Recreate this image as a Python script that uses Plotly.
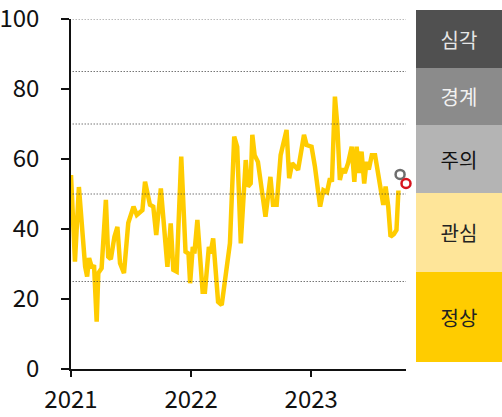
import plotly.graph_objs as go

# weekly index values
dates = [
    "2021-01-01", "2021-01-13", "2021-01-25", "2021-02-13", "2021-02-19", "2021-02-25",
    "2021-03-06", "2021-03-12", "2021-03-20", "2021-03-25", "2021-04-04", "2021-04-17",
    "2021-04-24", "2021-05-02", "2021-05-13", "2021-05-22", "2021-05-30", "2021-06-11",
    "2021-06-24", "2021-07-10", "2021-07-20", "2021-08-06", "2021-08-14", "2021-08-29",
    "2021-09-08", "2021-09-17", "2021-10-01", "2021-10-21", "2021-10-31", "2021-11-08",
    "2021-11-18", "2021-12-02", "2021-12-15", "2021-12-24", "2021-12-29", "2022-01-06",
    "2022-01-11", "2022-01-20", "2022-02-05", "2022-02-12", "2022-02-24", "2022-03-01",
    "2022-03-09", "2022-03-24", "2022-04-04", "2022-04-14", "2022-04-29", "2022-05-12",
    "2022-05-21", "2022-06-01", "2022-06-16", "2022-06-23", "2022-07-01", "2022-07-06",
    "2022-07-13", "2022-07-23", "2022-08-15", "2022-08-30", "2022-09-07", "2022-09-18",
    "2022-09-30", "2022-10-18", "2022-10-26", "2022-11-04", "2022-11-22", "2022-12-10",
    "2022-12-18", "2023-01-02", "2023-01-12", "2023-01-28", "2023-02-07", "2023-02-18",
    "2023-02-27", "2023-03-05", "2023-03-14", "2023-03-21", "2023-03-29", "2023-04-06",
    "2023-04-13", "2023-04-23", "2023-05-04", "2023-05-12", "2023-05-19", "2023-05-26",
    "2023-06-03", "2023-06-11", "2023-06-18", "2023-06-25", "2023-07-04", "2023-07-14",
    "2023-07-24", "2023-08-03", "2023-08-08", "2023-08-15", "2023-08-23", "2023-08-30",
    "2023-09-09", "2023-09-17", "2023-09-23",
]
values = [
    55.4, 30.7, 52.0, 29.2, 26.4, 31.7,
    28.8, 29.7, 13.5, 27.4, 28.8, 48.3,
    32.1, 31.4, 37.8, 40.6, 30.2, 27.4,
    41.7, 46.4, 44.0, 45.4, 53.5, 46.9,
    46.4, 38.3, 51.6, 29.2, 41.6, 28.3,
    27.8, 60.7, 33.5, 33.0, 24.5, 34.9,
    33.0, 42.6, 22.1, 22.1, 34.9, 33.0,
    37.3, 19.2, 18.3, 26.4, 35.9, 66.4,
    63.5, 35.9, 59.7, 52.1, 53.0, 66.9,
    61.1, 59.2, 43.5, 54.9, 46.9, 46.9,
    61.1, 68.3, 54.5, 58.8, 56.9, 66.9,
    64.0, 63.5, 58.0, 46.4, 51.1, 50.5,
    54.5, 53.5, 77.8, 70.0, 54.0, 57.3,
    56.0, 58.8, 63.5, 53.5, 63.5, 56.0,
    62.1, 53.0, 59.2, 57.0, 61.1, 61.1,
    56.0, 50.2, 46.9, 52.1, 46.4, 37.8,
    38.5, 39.7, 51.0,
]

# highlighted latest points
marker_dates = ["2023-09-28", "2023-10-16"]
marker_values = [55.6, 53.0]
marker_colors = ["#6e6e6e", "#d7141e"]

# alert levels (dotted lines) and the side panel
levels = [25, 50, 70, 85, 100]
stage_names = ["정상", "관심", "주의", "경계", "심각"]
stage_low = [2.0, 27.7, 50.3, 69.7, 86.0]
stage_high = [27.7, 50.3, 69.7, 86.0, 102.6]
stage_fill = ["#ffcc00", "#fee599", "#b4b4b4", "#8b8b8b", "#505050"]
stage_text = ["#222222", "#222222", "#111111", "#f2f2f2", "#e6e6e6"]

year_ticks = ["2021-01-01", "2022-01-01", "2023-01-01"]
year_labels = ["2021", "2022", "2023"]

FONT = "Noto Sans CJK KR"

fig = go.Figure()

fig.add_trace(go.Scatter(
    x=dates, y=values, mode="lines",
    line=dict(color="#ffcc00", width=4.5),
    hoverinfo="skip",
))

for d, v, c in zip(marker_dates, marker_values, marker_colors):
    fig.add_trace(go.Scatter(
        x=[d], y=[v], mode="markers", cliponaxis=False,
        marker=dict(symbol="circle", size=9, color="white",
                    line=dict(color=c, width=2.5)),
    ))

fig.add_trace(go.Bar(
    x=[0] * len(stage_names),
    y=[h - l for l, h in zip(stage_low, stage_high)],
    base=stage_low,
    width=1,
    marker=dict(color=stage_fill, line=dict(width=0)),
    text=stage_names,
    textposition="inside",
    insidetextanchor="middle",
    constraintext="none",
    textfont=dict(family=FONT, size=20, color=stage_text),
    xaxis="x2", yaxis="y2",
))

for lv in levels:
    fig.add_shape(type="line", xref="x domain", yref="y",
                  x0=0.005, x1=1, y0=lv, y1=lv,
                  line=dict(color="#333333", width=1, dash="1px,2px"))

W, H = 502, 417
fig.update_layout(
    width=W, height=H,
    margin=dict(l=0, r=0, t=0, b=0),
    paper_bgcolor="white", plot_bgcolor="white",
    showlegend=False,
    bargap=0,
    font=dict(family=FONT, color="#111111"),
    xaxis=dict(
        type="date", domain=[71 / W, 406 / W],
        range=["2021-01-01", "2023-10-16"],
        tickvals=year_ticks, ticktext=year_labels,
        ticks="outside", ticklen=6, tickwidth=1.5, tickcolor="#111111",
        showline=True, linecolor="#111111", linewidth=1.5,
        showgrid=False, zeroline=False, automargin=False,
        ticklabeloverflow="allow", ticklabelstandoff=2,
        tickfont=dict(size=24, color="#111111"),
    ),
    yaxis=dict(
        domain=[(H - 369) / H, (H - 19) / H],
        range=[0, 100],
        tickvals=[0, 20, 40, 60, 80, 100],
        ticks="outside", ticklen=8, tickwidth=1.5, tickcolor="#111111",
        showline=True, linecolor="#111111", linewidth=1.5,
        showgrid=False, zeroline=False, automargin=False,
        ticklabeloverflow="allow", ticklabelstandoff=17,
        tickfont=dict(size=24, color="#111111"),
    ),
    xaxis2=dict(domain=[416 / W, 1.0], range=[-0.5, 0.5], visible=False,
                anchor="y2", automargin=False),
    yaxis2=dict(domain=[(H - 362) / H, (H - 10) / H], range=[2.0, 102.6],
                visible=False, anchor="x2", automargin=False),
)

fig.write_html("out.html", config={"displayModeBar": False},
               post_script="document.body.style.margin='0';")
